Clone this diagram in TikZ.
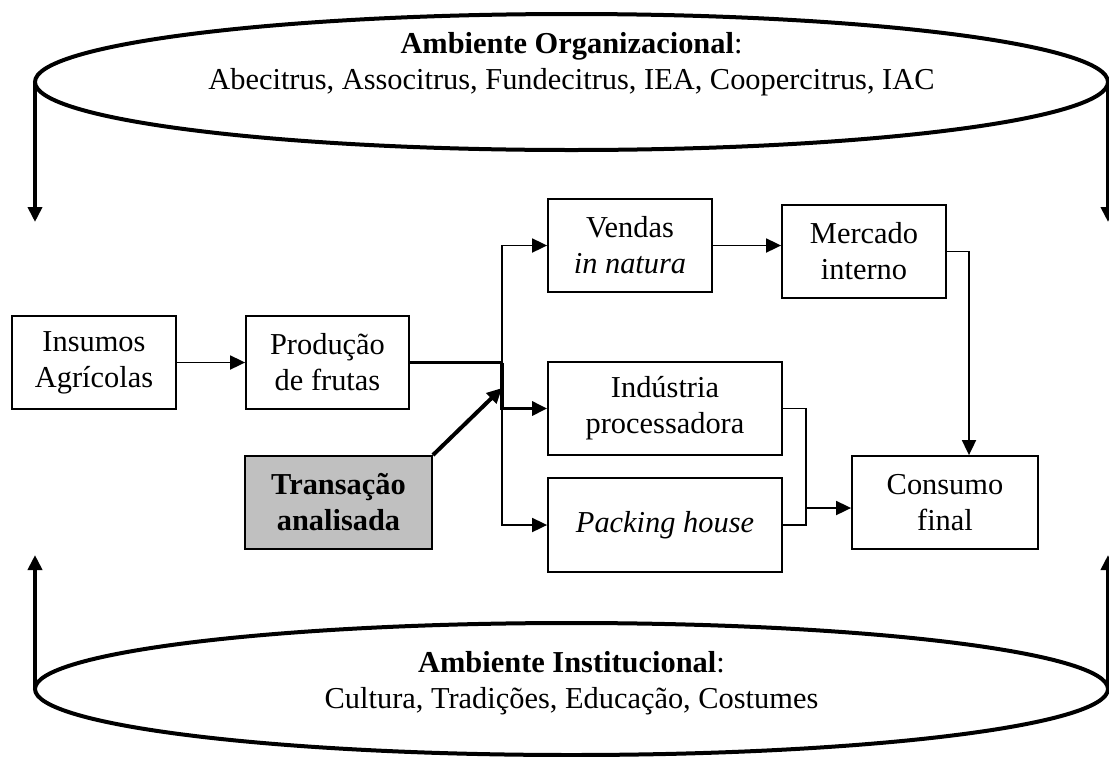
\documentclass[tikz,border=0pt]{standalone}
\usepackage{fontspec}
\setmainfont{Liberation Serif}
\usetikzlibrary{arrows.meta,positioning,shapes.geometric}
\definecolor{ShadeGray}{RGB}{192,192,192}

\begin{document}
\begin{tikzpicture}[
          x=0.5pt,y=-0.5pt,
          bx/.style={draw,line width=0.9pt,minimum height=46.5pt,inner sep=0pt,
                     align=center,font=\fontsize{15.2}{18}\selectfont},
          ell/.style={ellipse,draw,line width=2pt,minimum width=536.5pt,
                      inner sep=0pt,outer sep=0pt},
          txt/.style={align=center,font=\fontsize{15.2}{18}\selectfont},
          ar/.style={-{Triangle[length=7.5pt,width=7pt]},line width=0.9pt},
          thk/.style={line width=1.6pt},
          big/.style={-{Triangle[length=7.5pt,width=7pt]},line width=2pt}
        ]
          \useasboundingbox (0,0) rectangle (1109,756);

          % environments
          \node(org)[ell,minimum height=68pt] at (571.5,82) {};
          \node(orgtxt)[txt] at (571.5,64) {\textbf{Ambiente Organizacional}:\\Abecitrus, Associtrus, Fundecitrus, IEA, Coopercitrus, IAC};
          \node(inst)[ell,minimum height=66pt] at (571.5,689) {};
          \node(insttxt)[txt] at (571.5,683) {\textbf{Ambiente Institucional}:\\Cultura, Tradições, Educação, Costumes};

          % chain
          \node(ins)[bx,minimum width=82pt] at (94,362.5) {Insumos\\Agrícolas};
          \node(prod)[bx,minimum width=81.5pt] at (327.5,362.5) {Produção\\de frutas};
          \node(trans)[bx,minimum width=93.5pt,fill=ShadeGray,font=\fontsize{15.2}{18}\selectfont\bfseries] at (338.5,502.5) {Transação\\analisada};
          \node(vend)[bx,minimum width=82pt] at (630,245.5) {Vendas\\\textit{in natura}};
          \node(merc)[bx,minimum width=82pt] at (864,251.5) {Mercado\\interno};
          \node(ind)[bx,minimum width=117pt] at (665,408.5) {Indústria\\processadora};
          \node(pack)[bx,minimum width=117pt,minimum height=47pt] at (665,525) {\textit{Packing house}};
          \node(cons)[bx,minimum width=93pt] at (945,502.5) {Consumo\\final};

          \coordinate(jn) at (502,362.5);
          \coordinate(jt) at (502,388);
          \coordinate(jc) at (806,508);
          \coordinate(od) at (35,222);
          \coordinate(oe) at (1108,222);
          \coordinate(iu) at (35,555);
          \coordinate(ie) at (1108,555);

          \draw[ar] (ins) -- (prod);
          \draw[thk] (prod.east) -- (jn);
          \draw[ar] (jn) |- (vend.west);
          \draw[ar,thk] (jn) |- (ind.west);
          \draw[ar] (jn) |- (pack.west);
          \draw[big] (trans.north east) -- (jt);
          \draw[ar] (vend.east) -- (merc.west |- vend.east);
          \draw[ar] (merc.east) -| ([xshift=12pt]cons.north);
          \draw[line width=0.9pt] (ind.east) -| (jc |- pack.east) -- (pack.east);
          \draw[ar] (jc) -- (jc -| cons.west);

          \draw[big] (org.west) -- (od);
          \draw[big] (org.east) -- (oe);
          \draw[big] (inst.west) -- (iu);
          \draw[big] (inst.east) -- (ie);
        \end{tikzpicture}
\end{document}
